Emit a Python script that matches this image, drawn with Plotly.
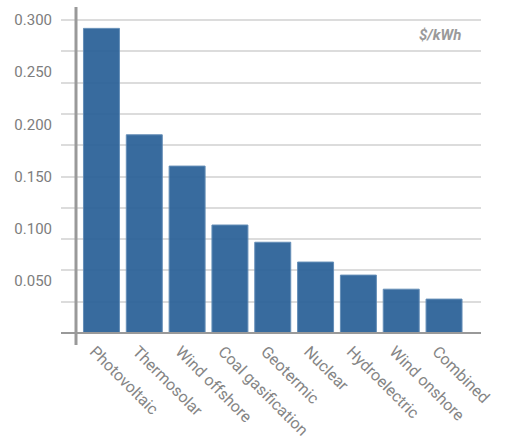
import plotly.graph_objects as go

categories = ["Photovoltaic", "Thermosolar", "Wind offshore", "Coal gasification",
              "Geotermic", "Nuclear", "Hydroelectric", "Wind onshore", "Combined"]
costs = [0.292, 0.190, 0.160, 0.1035, 0.087, 0.068, 0.0555, 0.042, 0.0325]
label_vals = [0.05, 0.10, 0.15, 0.20, 0.25, 0.30]
label_text = ["0.050", "0.100", "0.150", "0.200", "0.250", "0.300"]

W, H = 505, 440
L, R, T, B = 61, 24, 7, 107

fig = go.Figure()
# invisible helper trace so the grid axis is rendered
fig.add_trace(go.Scatter(x=[categories[0]], y=[None], yaxis="y2", mode="markers",
                         showlegend=False, hoverinfo="skip"))
fig.add_trace(go.Bar(
    x=categories, y=costs, width=0.84,
    marker=dict(color="#2c6299", opacity=0.94, line=dict(color="#5c88b3", width=1)),
    showlegend=False, hoverinfo="x+y",
))

yrange = [0, 0.3125]
fig.update_layout(
    width=W, height=H,
    margin=dict(l=L, r=R, t=T, b=B, pad=0, autoexpand=False),
    paper_bgcolor="white", plot_bgcolor="white",
    font=dict(family="Roboto", color="#808080", size=15),
    xaxis=dict(
        type="category", range=[-0.945, 8.863], automargin=False,
        tickangle=45, showgrid=False, showline=False, zeroline=False,
        ticks="", ticklabelstandoff=5, ticklabelshift=-7,
        tickfont=dict(size=16, color="#858585"),
    ),
    yaxis=dict(
        range=yrange, tickvals=label_vals, ticktext=label_text, automargin=False,
        showgrid=False, zeroline=False, showline=False, ticks="",
        ticklabelstandoff=8,
        tickfont=dict(size=15, color="#7d7d7d"),
    ),
    yaxis2=dict(
        range=yrange, overlaying="y", side="left", dtick=0.03, tick0=0,
        showgrid=True, gridcolor="#dcdcdc", gridwidth=1.6, automargin=False,
        showticklabels=False, zeroline=False, showline=False, ticks="",
    ),
)

axis_x = (76 - L) / (W - L - R)
fig.add_shape(type="line", xref="paper", yref="paper", x0=0, x1=1, y0=0, y1=0,
              line=dict(color="#999999", width=2.2), layer="above")
fig.add_shape(type="line", xref="paper", yref="paper", x0=axis_x, x1=axis_x,
              y0=-12 / (H - T - B), y1=1, line=dict(color="#999999", width=3), layer="above")

fig.add_annotation(text="<b><i>$/kWh</i></b>", xref="paper", yref="paper",
                   x=(463 - L) / (W - L - R), y=(333 - 35) / (H - T - B),
                   xanchor="right", yanchor="middle", showarrow=False,
                   font=dict(size=15, color="#9a9a9a", family="Roboto"))

fig.write_html("out.html")
